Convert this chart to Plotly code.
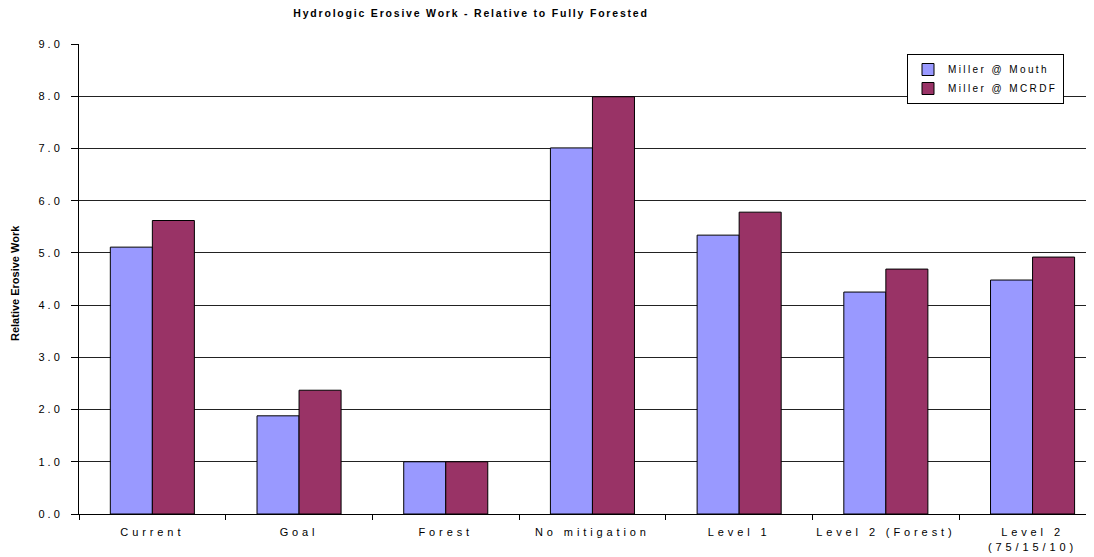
import plotly.graph_objects as go

# データ
categories = ["Current", "Goal", "Forest", "No mitigation", "Level 1",
              "Level 2 (Forest)", "Level 2\n(75/15/10)"]
miller_mouth = [5.11, 1.88, 1.0, 7.01, 5.34, 4.25, 4.48]
miller_mcrdf = [5.62, 2.37, 1.0, 7.99, 5.78, 4.69, 4.92]
y_ticks = [0, 1, 2, 3, 4, 5, 6, 7, 8, 9]
y_tick_labels = ["0.0", "1.0", "2.0", "3.0", "4.0", "5.0", "6.0", "7.0", "8.0", "9.0"]


def spaced(s, px=3):
    # 文字間隔をあけて表示（元グラフ風）
    lines = s.split("\n")
    return "<br>".join(f'<span style="letter-spacing:{px}px">{ln}</span>' for ln in lines)


x_labels = [spaced(c, 3.9) for c in categories]
font = "Liberation Sans, Arial, sans-serif"

# ページの body マージン(8px)分だけ内側をずらす
off = 8
left, top, bottom = 79 - off, 44 - off, 557 - (514 - off)
plot_w = 1094 - left
plot_h = 557 - top - bottom

fig = go.Figure()
fig.add_trace(go.Bar(x=x_labels, y=miller_mouth, name=spaced("Miller @ Mouth", 2.4),
                     marker=dict(color="#9999FF", line=dict(color="black", width=1))))
fig.add_trace(go.Bar(x=x_labels, y=miller_mcrdf, name=spaced("Miller @ MCRDF", 2.4),
                     marker=dict(color="#993366", line=dict(color="black", width=1))))

fig.update_layout(
    width=1094, height=557,
    margin=dict(l=left, r=0, t=top, b=bottom, autoexpand=False),
    paper_bgcolor="white", plot_bgcolor="white",
    font=dict(family=font, size=10, color="black"),
    barmode="group", bargap=0.427, bargroupgap=0,
    title=dict(text='<b><span style="letter-spacing:1.8px">Hydrologic Erosive Work - Relative to Fully Forested</span></b>',
               xref="container", x=(471 - off) / 1094, xanchor="center",
               yref="container", y=1 - (13 - off) / 557, yanchor="middle",
               font=dict(family=font, size=10.5, color="black")),
    legend=dict(x=(907 - 79) / plot_w, y=(514 - 54) / plot_h, xanchor="left", yanchor="top",
                bordercolor="black", borderwidth=1, bgcolor="white",
                font=dict(family=font, size=10), tracegroupgap=0,
                itemwidth=30),
    showlegend=True,
    annotations=[dict(text="<b>Relative Erosive Work</b>", textangle=-90,
                      xref="paper", yref="paper",
                      x=(15 - 79) / plot_w, y=(514 - 283) / plot_h,
                      xanchor="center", yanchor="middle", showarrow=False,
                      font=dict(family=font, size=11))],
)

fig.update_xaxes(
    range=[-0.5, -0.5 + plot_w / 146.7], showline=True, linecolor="black", linewidth=1,
    ticks="outside", ticklen=5, tickcolor="black", tickson="boundaries", tickangle=0,
    ticklabelstandoff=8,
    showgrid=False, tickfont=dict(family=font, size=11), automargin=False,
)
fig.update_yaxes(
    range=[0, 9], tickvals=y_ticks, ticktext=[spaced(t, 3) for t in y_tick_labels],
    showline=True, linecolor="black", linewidth=1,
    ticks="outside", ticklen=7, tickcolor="black",
    showgrid=True, gridcolor="#222222", gridwidth=1, zeroline=False,
    ticklabelstandoff=6, tickfont=dict(family=font, size=11), automargin=False,
)

fig.write_html("out.html")
